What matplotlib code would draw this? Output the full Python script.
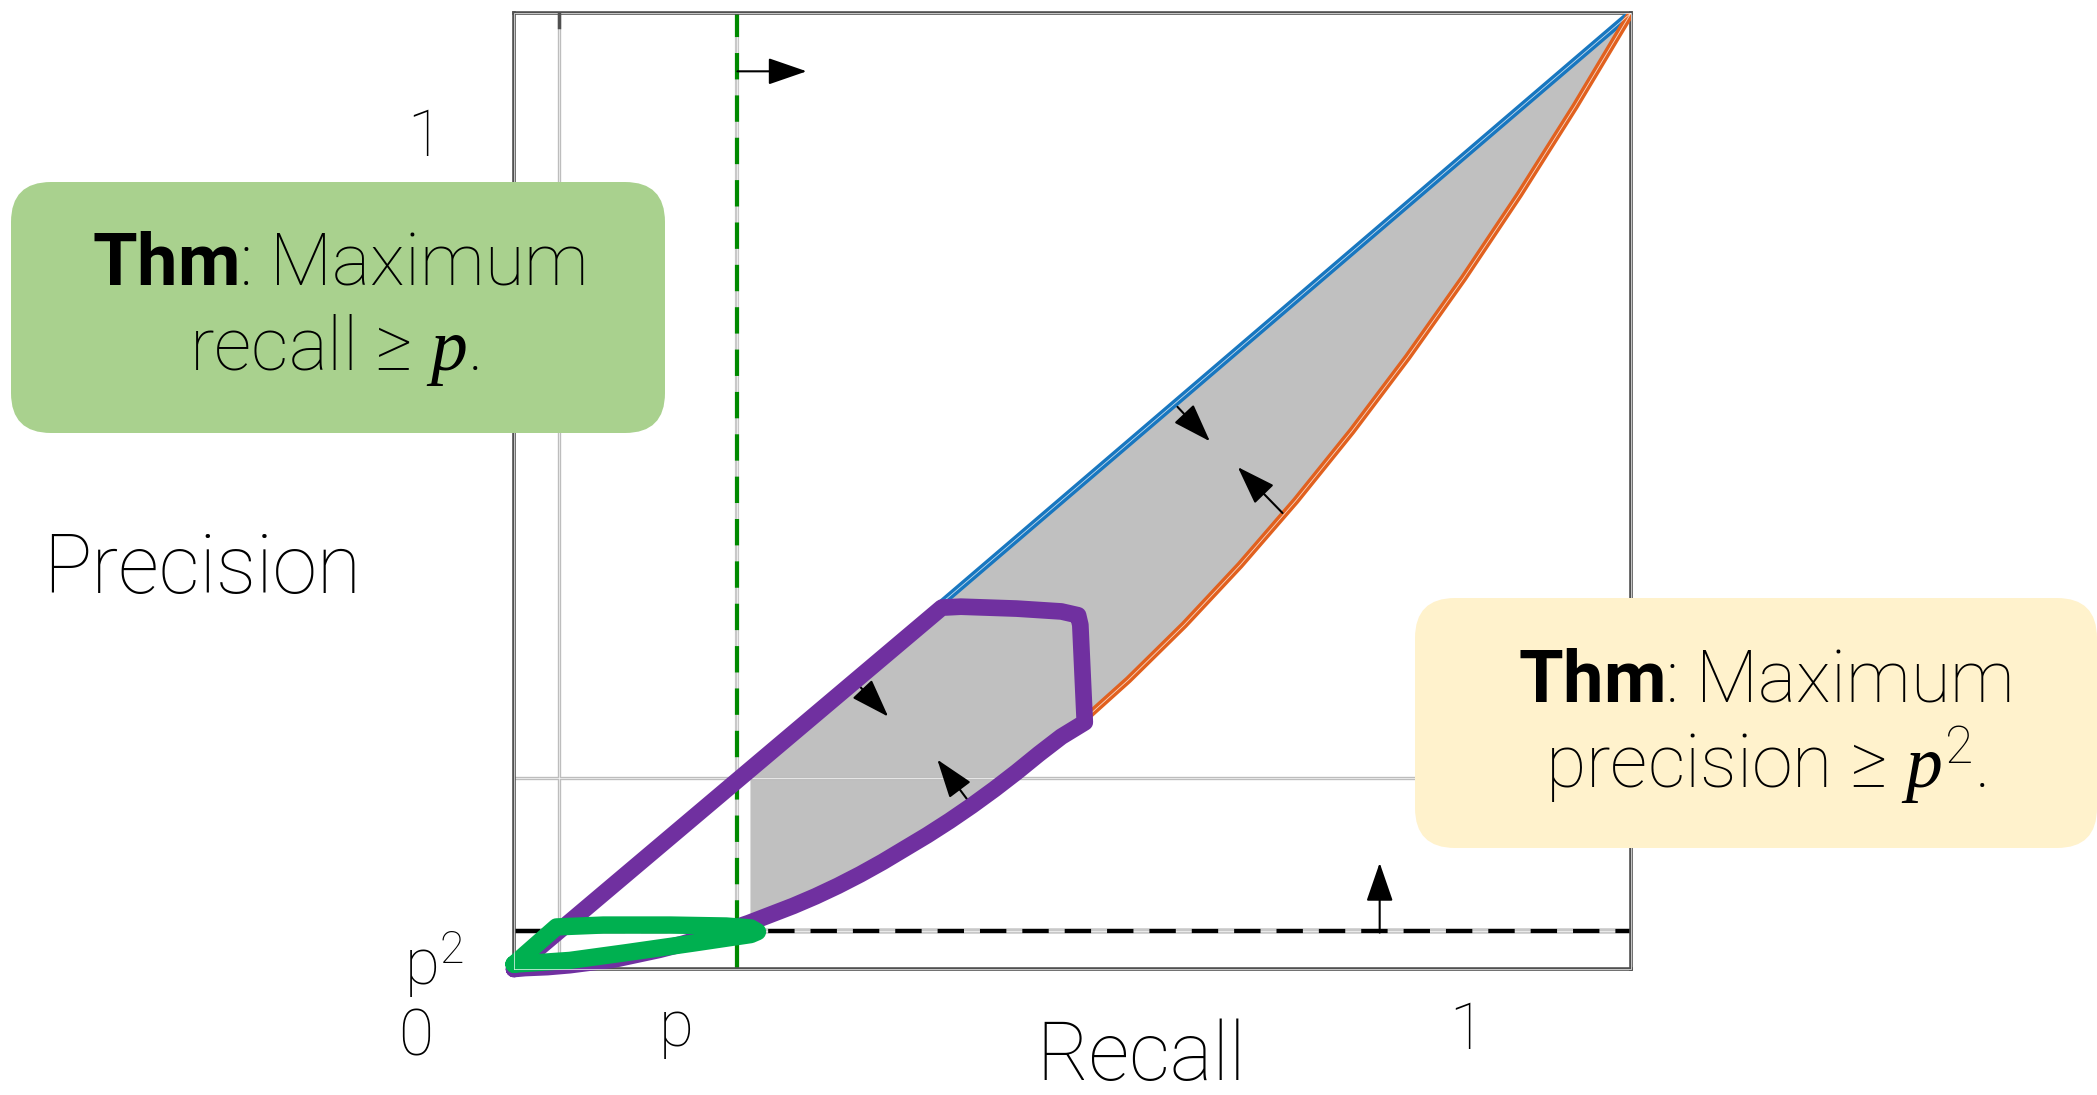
import matplotlib
matplotlib.use("Agg")
import matplotlib.pyplot as plt
from matplotlib.patches import FancyBboxPatch

plt.rcParams["font.family"] = ["Roboto", "DejaVu Sans"]
plt.rcParams["font.weight"] = "light"
plt.rcParams["mathtext.fontset"] = "custom"
plt.rcParams["mathtext.rm"] = "Roboto:light"
plt.rcParams["mathtext.bf"] = "Roboto:bold"
plt.rcParams["mathtext.it"] = "Liberation Serif:italic"
plt.rcParams["lines.scale_dashes"] = False

# ---- data -------------------------------------------------------------
p = 0.2
p_sq = 0.04

# upper bound: precision equals recall
upper_recall = [0.0, 1.0]
upper_precision = [0.0, 1.0]

# lower bound curve
lower_recall = [0.0, 0.05, 0.10, 0.15, 0.20, 0.25, 0.30, 0.35, 0.40, 0.45,
                0.50, 0.55, 0.60, 0.65, 0.70, 0.75, 0.80, 0.85, 0.90, 0.95, 1.0]
lower_precision = [0.0, 0.0025, 0.01, 0.0225, 0.04, 0.0625, 0.09, 0.1225, 0.16,
                   0.2025, 0.25, 0.3025, 0.36, 0.4225, 0.49, 0.5625, 0.64,
                   0.7225, 0.81, 0.9025, 1.0]

# feasible region (shaded) starts just right of recall = p
region_start = 0.21

# purple achievable loop
purple_recall = [0.0, 0.383, 0.40, 0.45, 0.49, 0.505, 0.507, 0.511,
                 0.49, 0.47, 0.45, 0.43, 0.41, 0.39, 0.37, 0.35, 0.33, 0.31,
                 0.29, 0.27, 0.25, 0.23, 0.21, 0.19, 0.17, 0.15, 0.13, 0.11,
                 0.09, 0.07, 0.05, 0.03, 0.01, 0.0]
purple_precision = [0.0, 0.378, 0.379, 0.377, 0.374, 0.370, 0.36, 0.258,
                    0.243, 0.225, 0.206, 0.188, 0.171, 0.155, 0.140, 0.126,
                    0.112, 0.099, 0.087, 0.076, 0.066, 0.057, 0.048, 0.040,
                    0.033, 0.026, 0.020, 0.015, 0.010, 0.007, 0.004, 0.002,
                    0.001, 0.0]

# green achievable loop
green_recall = [0.0, 0.038, 0.08, 0.14, 0.19, 0.212, 0.218, 0.212, 0.16, 0.10,
                0.05, 0.0]
green_precision = [0.005, 0.044, 0.046, 0.046, 0.045, 0.043, 0.039, 0.036,
                   0.027, 0.017, 0.009, 0.005]

# direction arrows (start -> end)
arrow_start = [(0.200, 0.939), (0.775, 0.038), (0.594, 0.588),
               (0.688, 0.477), (0.310, 0.295), (0.406, 0.177)]
arrow_end = [(0.262, 0.939), (0.775, 0.111), (0.623, 0.552),
             (0.648, 0.525), (0.335, 0.264), (0.379, 0.219)]

# ---- figure -----------------------------------------------------------
W, H = 2097, 1095
fig = plt.figure(figsize=(W / 100, H / 100), dpi=100)
ax = fig.add_axes([514 / W, 1 - 969 / H, 1117 / W, 956 / H])
ax.set_xlim(0, 1)
ax.set_ylim(0, 1)
ax.set_xticks([])
ax.set_yticks([])
for s in ax.spines.values():
    s.set_color("#505050")
    s.set_linewidth(2.6)
ax.plot([0, 1, 1, 0, 0], [0, 0, 1, 1, 0], transform=ax.transAxes,
        color="white", lw=0.6, alpha=0.8, clip_on=False, zorder=6)


def double_line(x, y, color, lw, z, **kw):
    ax.plot(x, y, color=color, lw=lw, zorder=z, solid_capstyle="butt", **kw)
    ax.plot(x, y, color="white", lw=0.6, alpha=0.75, zorder=z + 0.01,
            solid_capstyle="butt", **kw)


# shaded region between the bounds
xs = [r for r in lower_recall if r > region_start]
lo = [v for r, v in zip(lower_recall, lower_precision) if r > region_start]
xs = [region_start] + xs
lo = [region_start ** 2] + lo
ax.fill_between(xs, lo, xs, facecolor="#c0c0c0", edgecolor="white",
                lw=2.0, zorder=1)

# reference grey lines at recall = p^2 and precision = p
double_line([p_sq, p_sq], [0, 1], "#bdbdbd", 2.4, 2)
double_line([0, 1], [p, p], "#bdbdbd", 2.4, 2)

# dashed constraint lines
double_line([p, p], [0, 1], "#c8c8c8", 3.0, 2.2)
ax.plot([p, p], [0, 1], color="#008a00", lw=3.0, dashes=(19, 11.5), zorder=2.5)
double_line([0, 1], [p_sq, p_sq], "#c8c8c8", 4.0, 2.2)
ax.plot([0, 1], [p_sq, p_sq], color="black", lw=3.0, dashes=(19, 11.5),
        zorder=2.5)

# bounds
double_line(upper_recall, upper_precision, "#1877c0", 5.4, 3)
double_line(lower_recall, lower_precision, "#e1611f", 5.4, 3)

# arrows
for (x0, y0), (x1, y1) in zip(arrow_start, arrow_end):
    ax.annotate("", xy=(x1, y1), xytext=(x0, y0),
                arrowprops=dict(arrowstyle="-|>,head_length=1.1,head_width=0.38",
                                mutation_scale=22, lw=1.5, color="black",
                                shrinkA=0, shrinkB=0),
                zorder=4)

# achievable loops
ax.plot(purple_recall, purple_precision, color="#7030a0", lw=12,
        solid_joinstyle="round", solid_capstyle="round", zorder=5,
        clip_on=False)
ax.plot(green_recall, green_precision, color="#00b050", lw=12.5,
        solid_joinstyle="round", solid_capstyle="round", zorder=5.5,
        clip_on=False)

# small top tick
ax.plot([p_sq, p_sq], [1, 0.985], color="#505050", lw=2.5, zorder=6)

# ---- overlay for labels and callouts (pixel coordinates) --------------
ov = fig.add_axes([0, 0, 1, 1], zorder=10)
ov.set_xlim(0, W)
ov.set_ylim(H, 0)
ov.axis("off")
ov.patch.set_alpha(0)

ov.add_patch(FancyBboxPatch((11, 182), 654, 251,
                            boxstyle="round,pad=0,rounding_size=40",
                            facecolor="#a9d18e", edgecolor="none"))
ov.add_patch(FancyBboxPatch((1415, 598), 682, 250,
                            boxstyle="round,pad=0,rounding_size=40",
                            facecolor="#fff2cc", edgecolor="none"))

txt = dict(color="black", ha="center", va="center", fontweight="light")
ov.text(338, 265, r"$\mathbf{Thm}$: Maximum", fontsize=52, **txt)
ov.text(334, 350, r"recall ≥ $p$.", fontsize=53, **txt)
ov.text(1764, 682, r"$\mathbf{Thm}$: Maximum", fontsize=52, **txt)
ov.text(1766, 765, r"precision ≥ $p^2$.", fontsize=53, **txt)

ov.text(425, 138, "1", fontsize=46, **txt)
ov.text(202, 571, "Precision", fontsize=58, **txt)
ov.text(434, 965, r"p$^2$", fontsize=46, **txt)
ov.text(416, 1038, "0", fontsize=46, **txt)
ov.text(676, 1028, "p", fontsize=46, **txt)
ov.text(1141, 1058, "Recall", fontsize=58, **txt)
ov.text(1467, 1031, "1", fontsize=46, **txt)

fig.savefig("out.png", dpi=100)
